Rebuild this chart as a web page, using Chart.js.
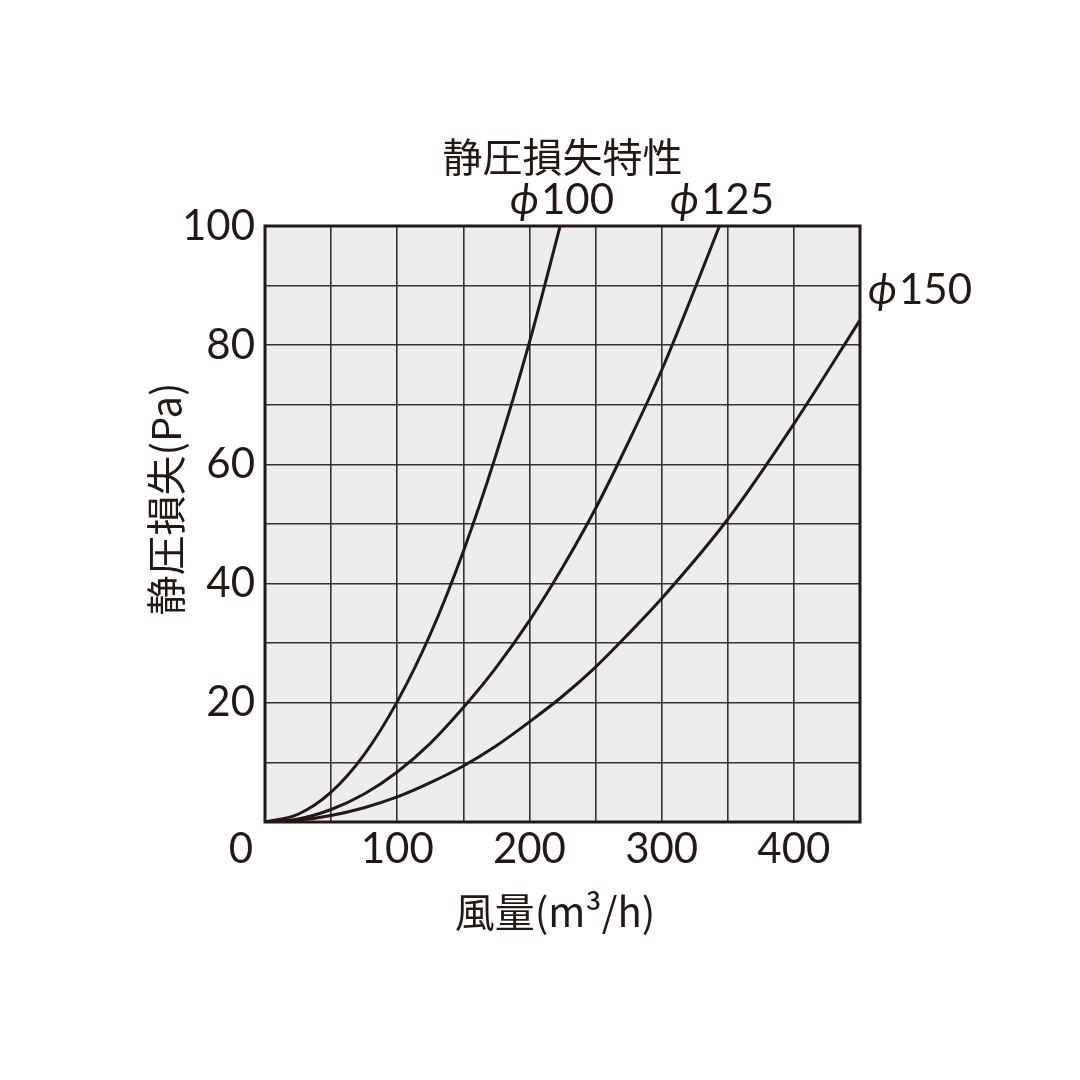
<!DOCTYPE html>
<html>
<head>
<meta charset="utf-8">
<script src="https://cdn.jsdelivr.net/npm/chart.js@4.4.0/dist/chart.umd.min.js"></script>
<style>
  html, body { margin: 0; background: #fff; }
</style>
</head>
<body>
<canvas id="lossChart" width="1080" height="1080"></canvas>
<script>
// values (airflow m3/h -> static pressure loss Pa)
const airflow100 = [0, 25, 50, 75, 100, 125, 150, 175, 200, 225];
const loss100 = [0, 1.3, 5.0, 11.3, 20.2, 31.5, 45.4, 61.8, 80.5, 101.5];

const airflow125 = [0, 25, 50, 75, 100, 125, 150, 175, 200, 225, 250, 275, 300, 350];
const loss125 = [0, 0.5, 2.1, 4.7, 8.4, 13.2, 19.2, 26, 33.8, 42.7, 52.6, 63.8, 75.8, 103.5];

const airflow150 = [0, 25, 50, 75, 100, 125, 150, 175, 200, 225, 250, 275, 300, 350, 400, 450];
const loss150 = [0, 0.3, 1.1, 2.4, 4.2, 6.6, 9.4, 12.8, 16.8, 21.1, 26, 31.6, 37.5, 50.8, 66.8, 84.2];

const seriesNames = ['\u03D5100', '\u03D5125', '\u03D5150'];
const xTickLabels = [100, 200, 300, 400];
const yTickLabels = [20, 40, 60, 80, 100];

const INK = '#231815';
const NUM_FONT = 'Lato, "Noto Sans", sans-serif';
const JP_FONT = '"Noto Sans CJK JP", sans-serif';

function toPoints(xs, ys) {
  return xs.map(function (x, i) { return { x: x, y: ys[i] }; });
}

function curve(label, xs, ys) {
  return {
    label: label,
    data: toPoints(xs, ys),
    borderColor: INK,
    borderWidth: 3,
    pointRadius: 0,
    cubicInterpolationMode: 'monotone',
    clip: 0
  };
}

// plot background, frame and the free-standing texts
const decor = {
  id: 'decor',
  beforeDraw(chart) {
    const a = chart.chartArea;
    const ctx = chart.ctx;
    ctx.save();
    ctx.fillStyle = '#ededee';
    ctx.fillRect(a.left, a.top, a.right - a.left, a.bottom - a.top);
    ctx.restore();
  },
  afterDatasetsDraw(chart) {
    const a = chart.chartArea;
    const ctx = chart.ctx;
    ctx.save();
    ctx.strokeStyle = INK;
    ctx.lineWidth = 3;
    ctx.strokeRect(a.left, a.top, a.right - a.left, a.bottom - a.top);
    ctx.restore();
  },
  afterDraw(chart) {
    const a = chart.chartArea;
    const ctx = chart.ctx;
    ctx.save();
    ctx.fillStyle = INK;
    ctx.textBaseline = 'middle';

    // title
    ctx.textAlign = 'center';
    ctx.font = '40px ' + JP_FONT;
    ctx.fillText('静圧損失特性', (a.left + a.right) / 2, a.top - 69);

    // x axis title
    ctx.font = '40px ' + JP_FONT;
    ctx.fillText('風量(m³/h)', 555, a.bottom + 90);

    // y axis title
    ctx.save();
    ctx.translate(166, 499);
    ctx.rotate(-Math.PI / 2);
    ctx.fillText('静圧損失(Pa)', 0, 0);
    ctx.restore();

    // shared origin label
    ctx.font = '42px ' + NUM_FONT;
    ctx.fillText('0', a.left - 24, a.bottom + 27);

    // curve names
    ctx.textAlign = 'left';
    const spots = [[510, a.top - 26], [670, a.top - 26], [868, a.top + 64]];
    seriesNames.forEach(function (name, i) {
      let x = spots[i][0];
      const y = spots[i][1];
      ctx.font = 'italic 42px ' + NUM_FONT;
      ctx.fillText(name[0], x, y);
      x += ctx.measureText(name[0]).width + 2;
      ctx.font = '42px ' + NUM_FONT;
      ctx.fillText(name.slice(1), x, y);
    });
    ctx.restore();
  }
};

new Chart(document.getElementById('lossChart'), {
  type: 'line',
  data: {
    datasets: [
      curve(seriesNames[0], airflow100, loss100),
      curve(seriesNames[1], airflow125, loss125),
      curve(seriesNames[2], airflow150, loss150)
    ]
  },
  options: {
    responsive: false,
    animation: false,
    devicePixelRatio: 1,
    layout: { padding: { left: 0, right: 220, top: 226, bottom: 158 } },
    plugins: {
      legend: { display: false },
      tooltip: { enabled: false }
    },
    scales: {
      x: {
        type: 'linear',
        min: 0,
        max: 450,
        afterFit(scale) { scale.height = 100; },
        grid: { color: '#333333', lineWidth: 1.6, drawTicks: false },
        border: { display: false },
        ticks: {
          stepSize: 50,
          padding: 2,
          color: INK,
          font: { family: NUM_FONT, size: 42 },
          maxRotation: 0,
          autoSkip: false,
          callback: function (v) { return xTickLabels.includes(v) ? String(v) : ''; }
        }
      },
      y: {
        min: 0,
        max: 100,
        afterFit(scale) { scale.width = 265; },
        grid: { color: '#333333', lineWidth: 1.6, drawTicks: false },
        border: { display: false },
        ticks: {
          stepSize: 10,
          padding: 10,
          color: INK,
          font: { family: NUM_FONT, size: 42 },
          autoSkip: false,
          callback: function (v) { return yTickLabels.includes(v) ? String(v) : ''; }
        }
      }
    }
  },
  plugins: [decor]
});
</script>
</body>
</html>
